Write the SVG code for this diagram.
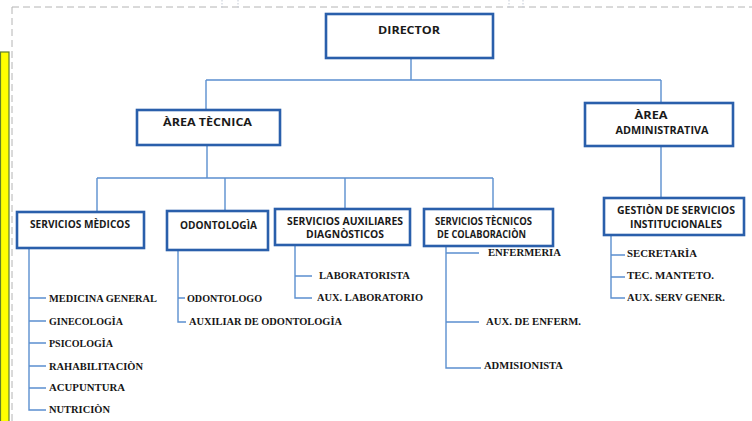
<svg xmlns="http://www.w3.org/2000/svg" width="752" height="421" viewBox="0 0 752 421">
  <style>
    .box { fill: #ffffff; stroke: #2a5fab; stroke-width: 2.6; }
    .lbl { font-family: "Open Sans", "Liberation Sans", sans-serif; font-weight: 700; font-size: 10px; fill: #1a1a1a; text-anchor: middle; }
    .leaf { font-family: "Liberation Serif", "DejaVu Serif", serif; font-weight: 700; font-size: 10.5px; fill: #161616; }
    .conn path { fill: none; stroke: #5b8fcf; stroke-width: 1.4; }
    .frame { fill: none; stroke: #b4b4b4; stroke-width: 1; stroke-dasharray: 7 4; }
    .mark { fill: none; stroke: #c4cbd6; stroke-width: 1; stroke-dasharray: 1.5 1.5; }
  </style>

  <rect x="0" y="0" width="752" height="421" fill="#ffffff"/>

  <!-- page frame and side bar -->
  <path class="frame" d="M12,7 H752 M12,7 V421"/>
  <path class="mark" d="M222,0 V8 M238,0 V8 M509,0 V8 M523,0 V8"/>
  <rect x="0.5" y="52" width="8.5" height="372" fill="#ffff00" stroke="#5f7f2a" stroke-width="1.2"/>

  <!-- connectors -->
  <g id="connectors" class="conn">
    <path d="M411,58 V80 M206,80 H661 M206,80 V110 M661,80 V103"/>
    <path d="M207,145 V178 M97,178 H493 M97,178 V212 M225,178 V211 M345,178 V209 M493,178 V209"/>
    <path d="M661,146 V198"/>
    <path d="M611,235 V298 H625 M611,255 H625 M611,277 H625"/>
    <path d="M446,246 V368 H481 M446,253 H479 M446,322 H479"/>
    <path d="M295,245 V298 H312 M295,276 H312"/>
    <path d="M178,250 V322 H186 M178,298 H185"/>
    <path d="M29,248 V410 H46 M29,298 H46 M29,321 H46 M29,343 H46 M29,366 H46 M29,388 H46"/>
  </g>

  <!-- top level -->
  <g id="director">
    <rect class="box" x="326" y="14" width="167" height="44"/>
    <text class="lbl" x="409" y="34" font-size="10.5" textLength="62" lengthAdjust="spacingAndGlyphs">DIRECTOR</text>
  </g>

  <g id="area-tecnica">
    <rect class="box" x="137" y="110" width="143" height="35"/>
    <text class="lbl" x="207.5" y="126" textLength="89" lengthAdjust="spacingAndGlyphs">ÀREA TÈCNICA</text>
  </g>

  <g id="area-administrativa">
    <rect class="box" x="585" y="103" width="148" height="43"/>
    <text class="lbl" x="651" y="119" textLength="33" lengthAdjust="spacingAndGlyphs">ÀREA</text>
    <text class="lbl" x="662" y="134" textLength="93" lengthAdjust="spacingAndGlyphs">ADMINISTRATIVA</text>
  </g>

  <!-- departments -->
  <g id="servicios-medicos">
    <rect class="box" x="17" y="212" width="127" height="36"/>
    <text class="lbl" x="80" y="228" textLength="100" lengthAdjust="spacingAndGlyphs">SERVICIOS MÈDICOS</text>
  </g>

  <g id="odontologia">
    <rect class="box" x="167" y="211" width="101" height="39"/>
    <text class="lbl" x="218.5" y="229" textLength="77" lengthAdjust="spacingAndGlyphs">ODONTOLOGÌA</text>
  </g>

  <g id="servicios-auxiliares">
    <rect class="box" x="275" y="209" width="135" height="36"/>
    <text class="lbl" x="345" y="225" textLength="116" lengthAdjust="spacingAndGlyphs">SERVICIOS AUXILIARES</text>
    <text class="lbl" x="345" y="238" textLength="78" lengthAdjust="spacingAndGlyphs">DIAGNÒSTICOS</text>
  </g>

  <g id="servicios-tecnicos">
    <rect class="box" x="424" y="209" width="129" height="37"/>
    <text class="lbl" x="483.5" y="225" textLength="97" lengthAdjust="spacingAndGlyphs">SERVICIOS TÈCNICOS</text>
    <text class="lbl" x="481.5" y="238" textLength="89" lengthAdjust="spacingAndGlyphs">DE COLABORACIÒN</text>
  </g>

  <g id="gestion-servicios">
    <rect class="box" x="604" y="198" width="140" height="37"/>
    <text class="lbl" x="676" y="214" font-size="9.5" textLength="118" lengthAdjust="spacingAndGlyphs">GESTIÒN DE SERVICIOS</text>
    <text class="lbl" x="676" y="228" font-size="9.5" textLength="92" lengthAdjust="spacingAndGlyphs">INSTITUCIONALES</text>
  </g>

  <!-- staff under Servicios Mèdicos -->
  <g id="medicos-staff">
    <text class="leaf" x="49" y="302" textLength="108" lengthAdjust="spacingAndGlyphs">MEDICINA GENERAL</text>
    <text class="leaf" x="49" y="325" textLength="74" lengthAdjust="spacingAndGlyphs">GINECOLOGÌA</text>
    <text class="leaf" x="49" y="347" textLength="64" lengthAdjust="spacingAndGlyphs">PSICOLOGÌA</text>
    <text class="leaf" x="49" y="370" textLength="94" lengthAdjust="spacingAndGlyphs">RAHABILITACIÒN</text>
    <text class="leaf" x="49" y="391" textLength="76" lengthAdjust="spacingAndGlyphs">ACUPUNTURA</text>
    <text class="leaf" x="49" y="413" textLength="61" lengthAdjust="spacingAndGlyphs">NUTRICIÒN</text>
  </g>

  <!-- staff under Odontologìa -->
  <g id="odontologia-staff">
    <text class="leaf" x="187" y="302" textLength="75" lengthAdjust="spacingAndGlyphs">ODONTOLOGO</text>
    <text class="leaf" x="189" y="325" textLength="153" lengthAdjust="spacingAndGlyphs">AUXILIAR DE ODONTOLOGÌA</text>
  </g>

  <!-- staff under Servicios Auxiliares -->
  <g id="auxiliares-staff">
    <text class="leaf" x="319" y="279" textLength="91" lengthAdjust="spacingAndGlyphs">LABORATORISTA</text>
    <text class="leaf" x="317" y="301" textLength="106" lengthAdjust="spacingAndGlyphs">AUX. LABORATORIO</text>
  </g>

  <!-- staff under Servicios Tècnicos -->
  <g id="tecnicos-staff">
    <text class="leaf" x="488" y="256" textLength="73" lengthAdjust="spacingAndGlyphs">ENFERMERIA</text>
    <text class="leaf" x="486" y="325" textLength="95" lengthAdjust="spacingAndGlyphs">AUX. DE ENFERM.</text>
    <text class="leaf" x="484" y="369" textLength="79" lengthAdjust="spacingAndGlyphs">ADMISIONISTA</text>
  </g>

  <!-- staff under Gestiòn de Servicios -->
  <g id="gestion-staff">
    <text class="leaf" x="627" y="257" textLength="70" lengthAdjust="spacingAndGlyphs">SECRETARÌA</text>
    <text class="leaf" x="627" y="279" textLength="87" lengthAdjust="spacingAndGlyphs">TEC. MANTETO.</text>
    <text class="leaf" x="627" y="301" textLength="98" lengthAdjust="spacingAndGlyphs">AUX. SERV GENER.</text>
  </g>
</svg>
